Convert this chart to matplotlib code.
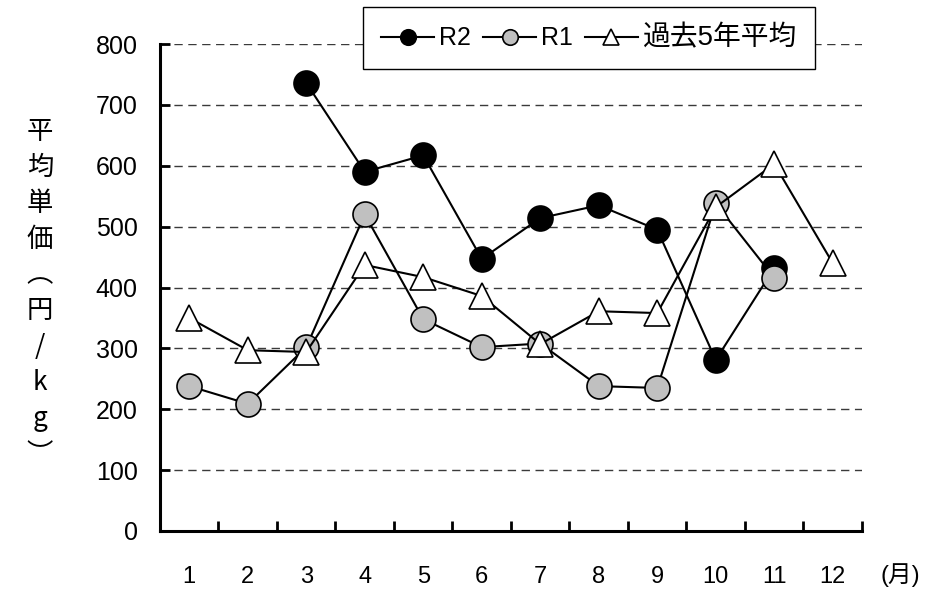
import matplotlib
matplotlib.use("Agg")
import matplotlib.pyplot as plt
import numpy as np

plt.rcParams['font.family'] = ['Liberation Sans', 'Noto Sans CJK JP', 'DejaVu Sans']

months = [1, 2, 3, 4, 5, 6, 7, 8, 9, 10, 11, 12]
month_labels = ['1', '2', '3', '4', '5', '6', '7', '8', '9', '10', '11', '12']
r2 = [np.nan, np.nan, 736, 590, 617, 447, 514, 535, 495, 281, 432, np.nan]
r1 = [238, 209, 302, 520, 348, 302, 308, 238, 235, 538, 416, np.nan]
avg5 = [350, 297, 294, 437, 417, 386, 307, 361, 358, 532, 603, 440]
series_names = ['R2', 'R1', '過去5年平均']
y_ticks = [0, 100, 200, 300, 400, 500, 600, 700, 800]

fig = plt.figure(figsize=(9.42, 5.95), dpi=100)
ax = fig.add_axes([160/942, 1-531/595, 702/942, 487/595])

ax.set_xlim(0.5, 12.5)
ax.set_ylim(0, 800)

for y in y_ticks[1:]:
    ax.axhline(y, color='#3a3a3a', lw=1.0, ls=(0, (6, 4)), zorder=1)

l2, = ax.plot(months, r2, color='black', lw=1.5, marker='o', ms=18,
              mfc='black', mec='black', mew=1.2, zorder=3, label=series_names[0])
l1, = ax.plot(months, r1, color='black', lw=1.5, marker='o', ms=18,
              mfc='#c0c0c0', mec='black', mew=1.2, zorder=4, label=series_names[1])
l3, = ax.plot(months, avg5, color='black', lw=1.5, marker='^', ms=19,
              mfc='white', mec='black', mew=1.2, zorder=5, label=series_names[2])

for s in ['top', 'right']:
    ax.spines[s].set_visible(False)
for s in ['left', 'bottom']:
    ax.spines[s].set_linewidth(2.2)
    ax.spines[s].set_zorder(6)

ax.set_yticks(y_ticks)
ax.set_yticklabels([str(v) for v in y_ticks], fontsize=18)
ax.tick_params(axis='y', direction='in', length=7, width=2, pad=16)

ax.set_xticks(months)
ax.set_xticklabels(month_labels, fontsize=17)
ax.set_xticks(np.arange(0.5, 13.0, 1.0), minor=True)
ax.tick_params(axis='x', which='major', length=0, pad=25)
ax.tick_params(axis='x', which='minor', direction='in', length=7, width=2)

ax.text(1.054, -0.09, '(月)', transform=ax.transAxes, fontsize=17,
        ha='center', va='center')

fig.text(40/942, 1-293/595, '平\n均\n単\n価\n︵\n円\n/\nk\ng\n︶',
         fontsize=19, ha='center', va='center', linespacing=1.42,
         family=['Noto Sans CJK JP', 'DejaVu Sans'])

leg = ax.legend(handles=[l2, l1, l3], loc='upper right',
                bbox_to_anchor=(0.933, 1.076), ncol=3, fontsize=18,
                markerscale=0.62, handlelength=2.1, handletextpad=0.2,
                columnspacing=0.5, borderpad=0.72, borderaxespad=0,
                fancybox=False, framealpha=1, edgecolor='black')
leg.get_frame().set_linewidth(1.0)
leg.get_texts()[2].set_fontsize(20)
leg.set_zorder(10)

fig.savefig('out.png', dpi=100)
